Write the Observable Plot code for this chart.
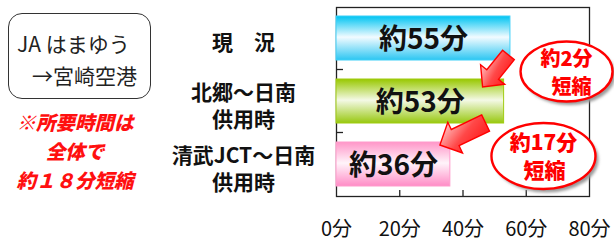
<!DOCTYPE html>
<html><head><meta charset="utf-8">
<script src="https://cdn.jsdelivr.net/npm/d3@7"></script>
<script src="https://cdn.jsdelivr.net/npm/@observablehq/plot@0.6"></script>
<style>
body{margin:0;background:#fff;font-family:"Noto Sans CJK JP",sans-serif;}
#wrap{position:relative;width:614px;height:241px;overflow:hidden;background:#fff}
#chart{position:absolute;left:0;top:0}
.box{position:absolute;left:8px;top:13px;width:141px;height:84px;border:1.5px solid #333;border-radius:14px;}
.t{position:absolute;white-space:nowrap;line-height:20px;height:20px;}
.route{font-size:21px;color:#222;}
.note{font-size:19.5px;font-weight:900;font-style:italic;color:#ff1010;left:0;width:150px;text-align:center;}
</style></head><body>
<div id="wrap"><div id="chart"></div></div>
<script>
// ---- data ----
const categories = ["現　況", "北郷～日南\n供用時", "清武JCT～日南\n供用時"];
const minutes = [55, 53, 36];
const barLabels = ["約55分", "約53分", "約36分"];
const xTicks = [0, 20, 40, 60, 80];
const xTickLabels = ["0分", "20分", "40分", "60分", "80分"];
const reductionTop = ["約2分", "約17分"];
const reductionBottom = ["短縮", "短縮"];
const routeLines = ["JA はまゆう", "→宮崎空港"];
const noteLines = ["※所要時間は", "全体で", "約１８分短縮"];

// ---- styles ----
const barGrads = [
  ["#00c4f2", "#f2fbff", "#2cc6f2"],
  ["#98c800", "#f4f9e6", "#98c810"],
  ["#ff96c8", "#fff4fa", "#ff8cc6"]
];
const barStrokes = ["#40d0f8", "#a0cc10", "#ff9ccc"];

const data = categories.map((c, i) => ({cat: c, v: minutes[i], label: barLabels[i], grad: `url(#bg${i})`, st: barStrokes[i]}));

function defsMark() {
  const g = d3.create("svg:g");
  const defs = g.append("defs");
  barGrads.forEach((c, i) => {
    const lg = defs.append("linearGradient").attr("id", "bg" + i).attr("x1", 0).attr("y1", 0).attr("x2", 0).attr("y2", 1);
    lg.append("stop").attr("offset", 0).attr("stop-color", c[0]);
    lg.append("stop").attr("offset", 0.48).attr("stop-color", c[1]);
    lg.append("stop").attr("offset", 1).attr("stop-color", c[2]);
  });
  const ag = defs.append("linearGradient").attr("id", "arrowGrad").attr("x1", 0).attr("y1", 0.2).attr("x2", 1).attr("y2", 0.8);
  ag.append("stop").attr("offset", 0).attr("stop-color", "#ffe0e0");
  ag.append("stop").attr("offset", 0.5).attr("stop-color", "#ff4848");
  ag.append("stop").attr("offset", 1).attr("stop-color", "#ff0c0c");
  const f = defs.append("filter").attr("id", "blur").attr("x", "-20%").attr("y", "-20%").attr("width", "140%").attr("height", "140%");
  f.append("feGaussianBlur").attr("stdDeviation", 1.6);
  return g.node();
}

function arrowPath(T, P, w, hw, hl) {
  const dx = P[0] - T[0], dy = P[1] - T[1], L = Math.hypot(dx, dy);
  const u = [dx / L, dy / L], n = [-u[1], u[0]];
  const B = [P[0] - u[0] * hl, P[1] - u[1] * hl];
  const pt = (p, s) => [p[0] + n[0] * s, p[1] + n[1] * s];
  const pts = [pt(T, w / 2), pt(B, w / 2), pt(B, hw / 2), P, pt(B, -hw / 2), pt(B, -w / 2), pt(T, -w / 2)];
  return "M" + pts.map(p => p.map(v => v.toFixed(1)).join(",")).join("L") + "Z";
}

function annotMark(index, scales, values, dims) {
  const x = scales.x, y = scales.y;
  const bw = y.bandwidth ? y.bandwidth() : scales.scales.y.bandwidth;
  const step = y.step ? y.step() : bw / 0.7;
  const c = k => y(categories[k]) + bw / 2;
  const g = d3.create("svg:g");
  // inward ticks on left at band boundaries
  for (let k = 1; k < categories.length; k++) {
    const yy = c(k) - step / 2;
    g.append("line").attr("x1", dims.marginLeft).attr("x2", dims.marginLeft + 7)
      .attr("y1", yy).attr("y2", yy).attr("stroke", "#222").attr("stroke-width", 1.3);
  }
  // arrows
  const arrows = [
    {T: [x(minutes[0]) - 1.5, c(0) + 17], P: [x(minutes[1]) - 21, c(1) - 14], w: 15, hw: 31, hl: 16},
    {T: [x(minutes[1]) - 18, c(1) + 22], P: [x(minutes[2]) - 10, c(2) - 19], w: 18, hw: 34, hl: 17}
  ];
  arrows.forEach(a => {
    g.append("path").attr("d", arrowPath(a.T, a.P, a.w, a.hw, a.hl))
      .attr("fill", "url(#arrowGrad)").attr("stroke", "#ff0000").attr("stroke-width", 1.4).attr("stroke-linejoin", "miter");
  });
  // ellipses
  const ells = [
    {cx: x(72.9), cy: (c(0) + c(1)) / 2 + 2, rx: 46, ry: 30, fs: 20},
    {cx: x(65.6), cy: c(2) - 8, rx: 52, ry: 33, fs: 21}
  ];
  ells.forEach((e, i) => {
    g.append("ellipse").attr("cx", e.cx + 3).attr("cy", e.cy + 3.5).attr("rx", e.rx).attr("ry", e.ry)
      .attr("fill", "#9a9a9a").attr("filter", "url(#blur)");
    g.append("ellipse").attr("cx", e.cx).attr("cy", e.cy).attr("rx", e.rx).attr("ry", e.ry)
      .attr("fill", "#fff").attr("stroke", "#ff0000").attr("stroke-width", 2.4);
    g.append("text").attr("x", e.cx).attr("y", e.cy - 13).attr("dy", "0.35em").attr("text-anchor", "middle")
      .attr("font-size", e.fs).attr("font-weight", 900).attr("fill", "#ff0000").text(reductionTop[i]);
    g.append("text").attr("x", e.cx + (i === 0 ? 5 : 1)).attr("y", e.cy + 15).attr("dy", "0.35em").attr("text-anchor", "middle")
      .attr("font-size", e.fs).attr("font-weight", 900).attr("fill", "#ff0000").text(reductionBottom[i]);
  });
  return g.node();
}

const chart = Plot.plot({
  width: 614, height: 241,
  marginLeft: 336, marginRight: 25, marginTop: 7, marginBottom: 45,
  style: {fontFamily: '"Noto Sans CJK JP", sans-serif', background: "transparent", overflow: "visible", color: "#111"},
  x: {domain: [0, 80], axis: null, label: null},
  y: {domain: categories, axis: null, label: null, paddingInner: 0.3, paddingOuter: 0.15},
  color: {type: "identity"},
  marks: [
    defsMark,
    Plot.frame({stroke: "#222", strokeWidth: 1.3}),
    Plot.axisX({ticks: [20, 40, 60], tickSize: 6, dy: -6, tickFormat: () => "", label: null, stroke: "#222", strokeWidth: 1.3}),
    Plot.axisX({ticks: xTicks, tickSize: 0, tickPadding: 25, fontSize: 20, fill: "#111", label: null,
      tickFormat: d => xTickLabels[xTicks.indexOf(d)]}),
    Plot.barX(data, {x: "v", y: "cat", fill: "grad", stroke: "st", strokeWidth: 1}),
    Plot.text(data, {x: d => d.v / 2, y: "cat", text: "label", fontSize: 28, fontWeight: "bold", fill: "#111", dy: 2}),
    Plot.text(data, {y: "cat", text: "cat", frameAnchor: "left", dx: -93, textAnchor: "middle",
      fontSize: 21, fontWeight: "bold", fill: "#111", lineHeight: 1.29, dy: 3}),
    annotMark
  ]
});
const wrap = document.getElementById("wrap");
document.getElementById("chart").appendChild(chart);

// left panel
const box = document.createElement("div"); box.className = "box"; wrap.appendChild(box);
const routePos = [[17, 33], [32, 65]];
routeLines.forEach((s, i) => {
  const d = document.createElement("div"); d.className = "t route"; d.textContent = s;
  d.style.left = routePos[i][0] + "px"; d.style.top = routePos[i][1] + "px"; wrap.appendChild(d);
});
const noteTops = [111.5, 140.5, 169.5];
noteLines.forEach((s, i) => {
  const d = document.createElement("div"); d.className = "t note"; d.textContent = s;
  d.style.top = noteTops[i] + "px"; wrap.appendChild(d);
});
</script>
</body></html>
